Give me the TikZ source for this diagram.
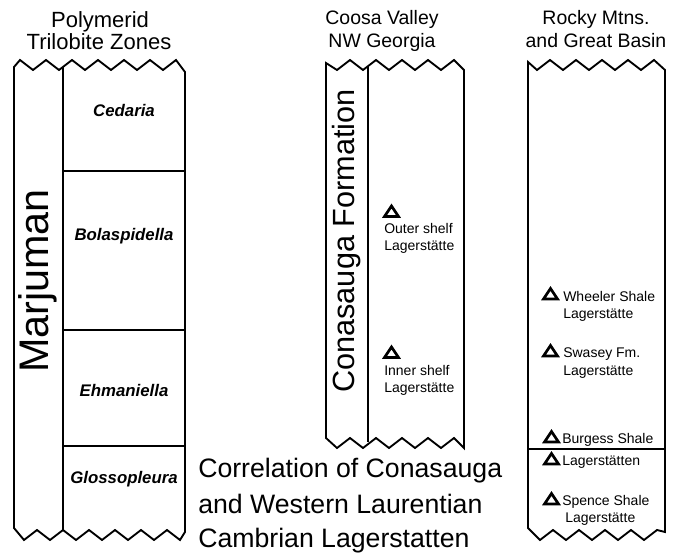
\documentclass[tikz,border=0pt]{standalone}
\usepackage{fontspec}
\setmainfont{Liberation Sans}
\usetikzlibrary{positioning}

\tikzset{
  colline/.style={line width=1.4pt},
  zonelabel/.style={font=\fontsize{12.6}{15}\selectfont\bfseries\itshape, inner sep=0pt},
  sitelabel/.style={font=\fontsize{10.5}{13}\selectfont, inner sep=0pt, anchor=base west},
  lagtri/.style={line width=2pt, line join=miter},
  headlabel/.style={font=\fontsize{14.6}{17}\selectfont, inner sep=0pt, anchor=base},
}

\begin{document}
\begin{tikzpicture}[x=0.75pt,y=0.75pt,yscale=-1,xscale=1]
        \useasboundingbox (0,0) rectangle (679,553);
        %Shape: Left column [id:col1]
        \draw [colline]  (14,528) -- (14,67) -- (20,60) -- (33,70) -- (46,60) -- (59,70) -- (72,60) -- (85,70) -- (98,60) -- (111,70) -- (124,60) -- (137,70) -- (150,60) -- (163,70) -- (176,60) -- (185,72) -- (185,532) -- (180,540) -- (167,530) -- (154,540) -- (141,530) -- (128,540) -- (115,530) -- (102,540) -- (89,530) -- (76,540) -- (63,530) -- (50,540) -- (37,530) -- (24,540) -- cycle ;
        %Straight Lines [id:col1div]
        \draw [colline]  (63,67) -- (63,530) ;
        %Straight Lines [id:col1a]
        \draw [colline]  (63,171) -- (185,171) ;
        %Straight Lines [id:col1b]
        \draw [colline]  (63,330) -- (185,330) ;
        %Straight Lines [id:col1c]
        \draw [colline]  (63,446) -- (185,446) ;
        %Shape: Middle column [id:col2]
        \draw [colline]  (326,438) -- (326,63) -- (337,70) -- (350,60) -- (363,70) -- (376,60) -- (389,70) -- (402,60) -- (415,70) -- (428,60) -- (441,70) -- (454,60) -- (464,70) -- (464,448) -- (454,438) -- (441,448) -- (428,438) -- (415,448) -- (402,438) -- (389,448) -- (376,438) -- (363,448) -- (350,438) -- (337,448) -- cycle ;
        %Straight Lines [id:col2div]
        \draw [colline]  (368,66) -- (368,442) ;
        %Shape: Right column [id:col3]
        \draw [colline]  (528,528) -- (528,62) -- (537,70) -- (550,60) -- (563,70) -- (576,60) -- (589,70) -- (602,60) -- (615,70) -- (628,60) -- (641,70) -- (654,60) -- (665,70) -- (665,532) -- (657,530) -- (644,540) -- (631,530) -- (618,540) -- (605,530) -- (592,540) -- (579,530) -- (566,540) -- (553,530) -- (540,540) -- cycle ;
        %Straight Lines [id:col3a]
        \draw [colline]  (528,449) -- (665,449) ;

        % Text Node
        \node [headlabel, font=\fontsize{16.5}{19}\selectfont] (polyA) at (100,27) {Polymerid};
        % Text Node
        \node [headlabel, font=\fontsize{16.5}{19}\selectfont] (polyB) at (99,49) {Trilobite Zones};
        % Text Node
        \node [headlabel] (coosaA) at (382,24) {Coosa Valley};
        % Text Node
        \node [headlabel] (coosaB) at (382,47) {NW Georgia};
        % Text Node
        \node [headlabel] (rockyA) at (596,25) {Rocky Mtns.};
        % Text Node
        \node [headlabel] (rockyB) at (596,47) {and Great Basin};

        % Text Node
        \node [font=\fontsize{31}{36}\selectfont, rotate=90, inner sep=0pt] (marj) at (38,281) {Marjuman};
        % Text Node
        \node [font=\fontsize{23}{27}\selectfont, rotate=90, inner sep=0pt] (conaf) at (347,241) {Conasauga Formation};

        % Text Node
        \node [zonelabel, anchor=base] (cedaria) at (124,116) {Cedaria};
        % Text Node
        \node [zonelabel, anchor=base] (bolasp) at (124,240) {Bolaspidella};
        % Text Node
        \node [zonelabel, anchor=base] (ehman) at (124,396) {Ehmaniella};
        % Text Node
        \node [zonelabel, anchor=base] (glosso) at (124,483) {Glossopleura};

        %Shape: Triangle [id:tri1]
        \draw [lagtri]  (384.5,216.5) -- (391.5,206) -- (398.5,216.5) -- cycle ;
        % Text Node
        \node [sitelabel] (outerA) at (384,233) {Outer shelf};
        % Text Node
        \node [sitelabel] (outerB) at (384,250) {Lagerstätte};
        %Shape: Triangle [id:tri2]
        \draw [lagtri]  (384.5,357.5) -- (391.5,347) -- (398.5,357.5) -- cycle ;
        % Text Node
        \node [sitelabel] (innerA) at (384,375) {Inner shelf};
        % Text Node
        \node [sitelabel] (innerB) at (384,392) {Lagerstätte};

        %Shape: Triangle [id:tri3]
        \draw [lagtri]  (543.5,299) -- (550.5,288.5) -- (557.5,299) -- cycle ;
        % Text Node
        \node [sitelabel] (wheelA) at (563,301) {Wheeler Shale};
        % Text Node
        \node [sitelabel] (wheelB) at (563,318) {Lagerstätte};
        %Shape: Triangle [id:tri4]
        \draw [lagtri]  (543.5,356) -- (550.5,345.5) -- (557.5,356) -- cycle ;
        % Text Node
        \node [sitelabel] (swasA) at (563,357) {Swasey Fm.};
        % Text Node
        \node [sitelabel] (swasB) at (563,375) {Lagerstätte};
        %Shape: Triangle [id:tri5]
        \draw [lagtri]  (544.5,442) -- (551.5,431.5) -- (558.5,442) -- cycle ;
        % Text Node
        \node [sitelabel] (burgA) at (562,443) {Burgess Shale};
        %Shape: Triangle [id:tri6]
        \draw [lagtri]  (544.5,464) -- (551.5,453.5) -- (558.5,464) -- cycle ;
        % Text Node
        \node [sitelabel] (burgB) at (562,465) {Lagerstätten};
        %Shape: Triangle [id:tri7]
        \draw [lagtri]  (544.5,504) -- (551.5,493.5) -- (558.5,504) -- cycle ;
        % Text Node
        \node [sitelabel] (spenA) at (562,505) {Spence Shale};
        % Text Node
        \node [sitelabel] (spenB) at (565,522) {Lagerstätte};

        % Text Node
        \node [font=\fontsize{20}{26}\selectfont, inner sep=0pt, anchor=base west] (titleA) at (198,477) {Correlation of Conasauga};
        % Text Node
        \node [font=\fontsize{20}{26}\selectfont, inner sep=0pt, anchor=base west] (titleB) at (198,513) {and Western Laurentian};
        % Text Node
        \node [font=\fontsize{20}{26}\selectfont, inner sep=0pt, anchor=base west] (titleC) at (198,547) {Cambrian Lagerstatten};
    \end{tikzpicture}
\end{document}
